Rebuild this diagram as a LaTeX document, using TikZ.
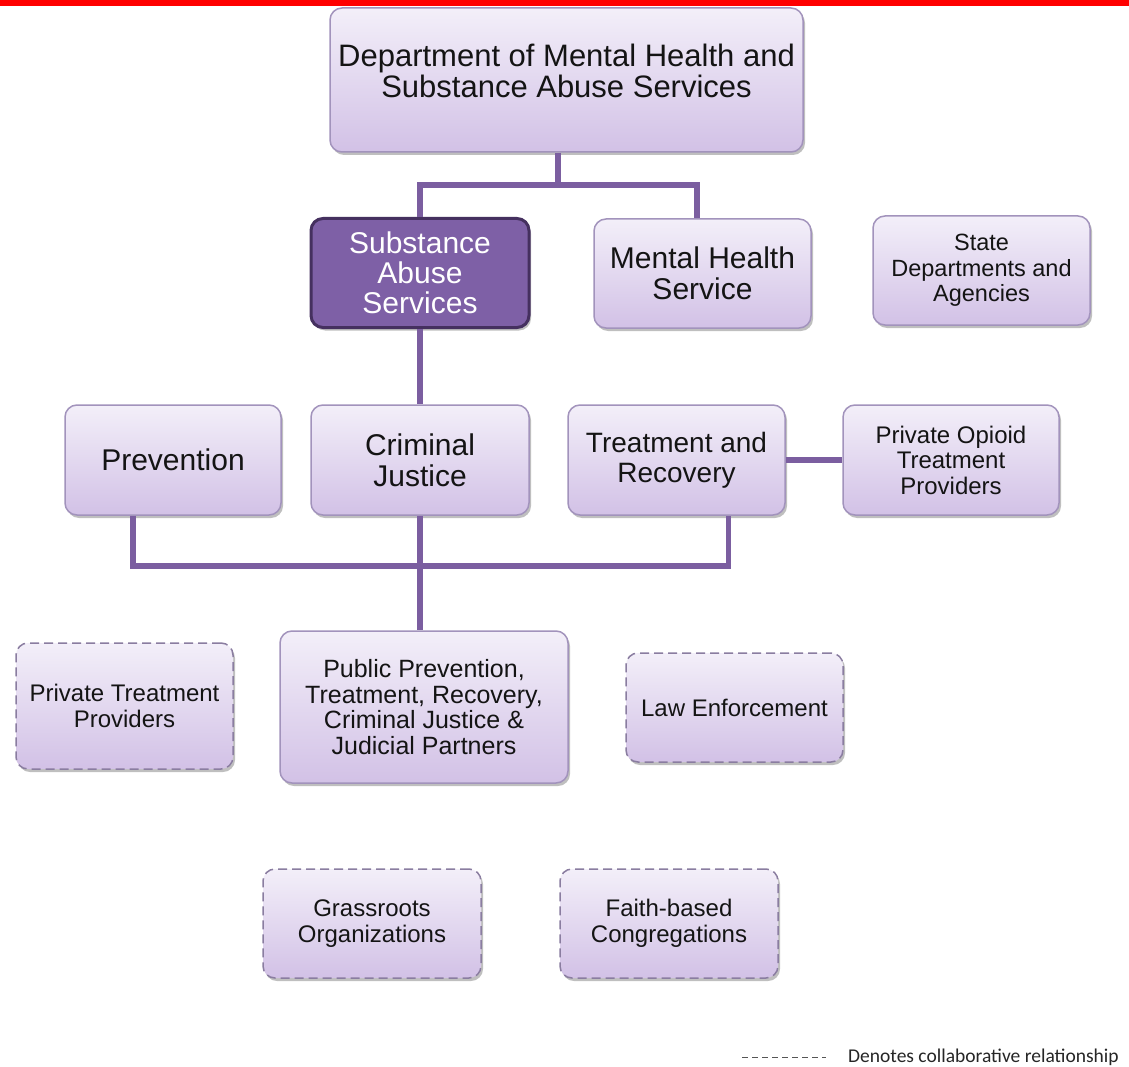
\documentclass[tikz,border=0pt]{standalone}
\usepackage{fontspec}
\setmainfont{Liberation Sans}
\newfontfamily\legendfont{Carlito}
\usetikzlibrary{shadows}
\definecolor{boxtop}{HTML}{F3EFF9}
\definecolor{boxbot}{HTML}{D2C1E6}
\definecolor{boxline}{HTML}{A293BC}
\definecolor{conncol}{HTML}{7B5EA0}
\definecolor{sasfill}{HTML}{7E60A6}
\definecolor{sasline}{HTML}{45305F}
\definecolor{legcol}{HTML}{555555}
\tikzset{
  box/.style={rectangle, rounded corners=12pt, draw=boxline, line width=1.5pt,
    top color=boxtop, bottom color=boxbot, align=center, inner sep=2pt,
    text=black!92,
    drop shadow={shadow xshift=2pt, shadow yshift=-3pt, opacity=0.25, fill=black}},
  big/.style={font=\fontsize{30}{31}\selectfont},
  small/.style={font=\fontsize{24}{25.5}\selectfont},
  collab/.style={dash pattern=on 9pt off 5pt, draw=boxline!85!black},
  sasbox/.style={box, top color=sasfill, bottom color=sasfill, draw=sasline,
    line width=3pt, text=white},
  conn/.style={draw=conncol, line width=5.5pt},
  legline/.style={draw=legcol, line width=1pt, dash pattern=on 6pt off 4pt},
}
\begin{document}
\begin{tikzpicture}[x=1pt, y=-1pt]
\useasboundingbox (0,0) rectangle (1129,1067);
\fill[white] (0,0) rectangle (1129,1067);
\fill[red] (0,0) rectangle (1129,6.5);

% nodes
\node[box, minimum width=473pt, minimum height=144pt,
  label={[font=\fontsize{31}{31}\selectfont, align=center, text=black!92, yshift=9.5pt]center:{Department of Mental Health and\\Substance Abuse Services}}]
  (dept) at (566.5,80) {};
\node[sasbox, big, font=\fontsize{30}{30}\selectfont, minimum width=218pt, minimum height=109pt] (sas) at (420,273) {Substance\\Abuse\\Services};
\node[box, big, minimum width=217pt, minimum height=109pt] (mhs) at (702.5,273.5) {Mental Health\\Service};
\node[box, small, font=\fontsize{23.5}{25.5}\selectfont, minimum width=217pt, minimum height=109pt] (state) at (981.5,270.5) {State\\Departments and\\Agencies};

\node[box, big, minimum width=216pt, minimum height=110pt] (prev) at (173,460) {Prevention};
\node[box, big, minimum width=218pt, minimum height=110pt] (cj) at (420,460) {Criminal\\Justice};
\node[box, big, font=\fontsize{28}{30}\selectfont, minimum width=217pt, minimum height=110pt] (tr) at (676.5,460) {Treatment and\\Recovery};
\node[box, small, minimum width=216pt, minimum height=110pt] (pot) at (951,460) {Private Opioid\\Treatment\\Providers};

\node[box, collab, small, minimum width=217pt, minimum height=126pt] (ptp) at (124.5,706) {Private Treatment\\Providers};
\node[box, small, font=\fontsize{25}{25.7}\selectfont, minimum width=288pt, minimum height=152pt] (pub) at (424,707) {Public Prevention,\\Treatment, Recovery,\\Criminal Justice \&\\Judicial Partners};
\node[box, collab, small, minimum width=217pt, minimum height=109pt] (law) at (734.5,707.5) {Law Enforcement};

\node[box, collab, small, minimum width=218pt, minimum height=109pt] (grass) at (372,923.5) {Grassroots\\Organizations};
\node[box, collab, small, minimum width=218pt, minimum height=109pt] (faith) at (669,923.5) {Faith-based\\Congregations};

% connectors
\coordinate (b1) at (558,185);
\coordinate (b2) at (420,566);
\coordinate (b3) at (697,185);
\draw[conn] (b1 |- dept.south) -- (b1);
\draw[conn] (sas.north) |- (b3) -- (b3 |- mhs.north);
\draw[conn] (sas.south) -- (cj.north);
\draw[conn] ([xshift=-40pt]prev.south) |- (b2) -| ([xshift=52pt]tr.south);
\draw[conn] (cj.south) -- (cj.south |- pub.north);
\draw[conn] (tr.east) -- (pot.west);

% legend
\coordinate (l1) at (742,1057);
\coordinate (l2) at (826,1057);
\draw[legline] (l1) -- (l2);
\node[anchor=west, inner sep=0pt, text=black!85, font=\legendfont\fontsize{19.5}{22}\selectfont] (legend) at (848,1057) {Denotes collaborative relationship};
\end{tikzpicture}
\end{document}
